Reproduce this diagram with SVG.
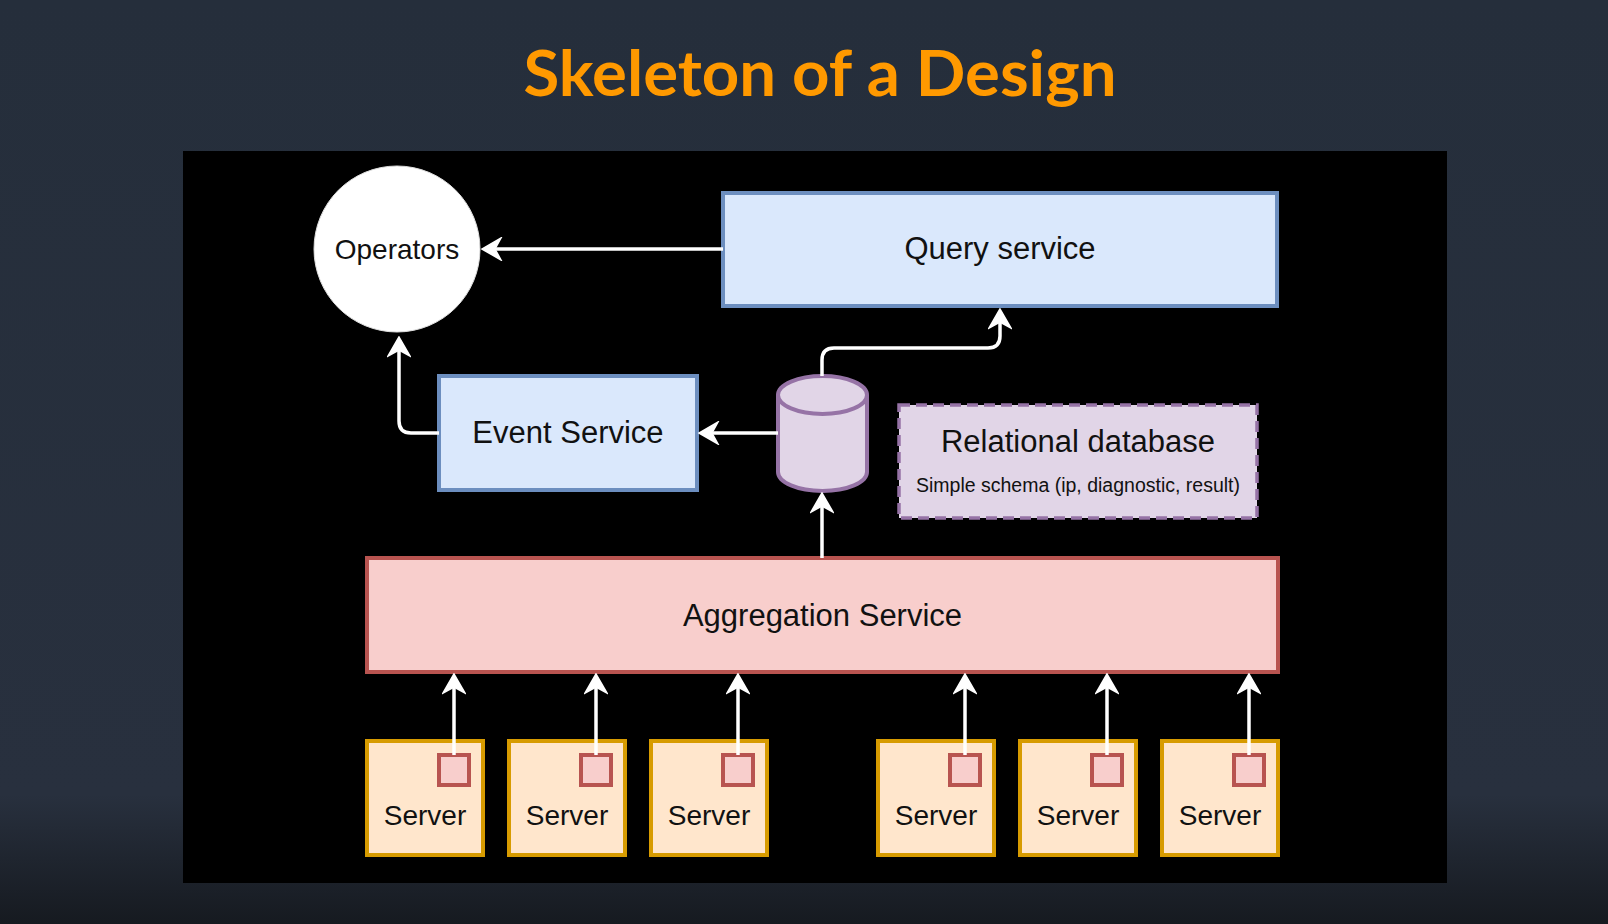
<svg xmlns="http://www.w3.org/2000/svg" width="1608" height="924" viewBox="0 0 1608 924">
  <defs>
    <linearGradient id="bg" x1="0" y1="0" x2="0" y2="1">
      <stop offset="0" stop-color="#252e3b"/>
      <stop offset="0.86" stop-color="#28303e"/>
      <stop offset="1" stop-color="#161a20"/>
    </linearGradient>
    <marker id="arr" viewBox="-26 -12 27 24" refX="-6" refY="0" markerWidth="27" markerHeight="24" markerUnits="userSpaceOnUse" orient="auto">
      <path d="M0,0 L-19,-11 L-13,0 L-19,11 Z" fill="#ffffff" stroke="#ffffff" stroke-width="1.5" stroke-linejoin="miter"/>
    </marker>
    <style>
      .blue { fill: #dae8fc; stroke: #6c8ebf; stroke-width: 4; }
      .red { fill: #f8cecc; stroke: #b85450; stroke-width: 4; }
      .srv { fill: #ffe6cc; stroke: #d79b00; stroke-width: 4; }
      .sq { fill: #f8cecc; stroke: #b85450; stroke-width: 4; }
      .purple { fill: #e1d5e7; stroke: #9673a6; stroke-width: 4; }
      .lbl { font-family: "Liberation Sans", Arial, Helvetica, sans-serif; fill: #111111; text-anchor: middle; }
      .big { font-size: 31px; }
      .mid { font-size: 28px; }
      .small { font-size: 19.5px; }
      .conn { fill: none; stroke: #ffffff; stroke-width: 3.5; marker-end: url(#arr); }
    </style>
  </defs>

  <rect x="0" y="0" width="1608" height="924" fill="url(#bg)"/>
  <text x="820" y="96" font-family="Lato, 'Open Sans', sans-serif" font-weight="700" font-size="64" fill="#ff9900" text-anchor="middle" textLength="593" lengthAdjust="spacingAndGlyphs">Skeleton of a Design</text>

  <rect id="panel" x="183" y="151" width="1264" height="732" fill="#000000"/>

  <g id="operators">
    <circle cx="397" cy="249" r="83" fill="#ffffff" stroke="#dddddd" stroke-width="1"/>
    <text class="lbl mid" x="397" y="259">Operators</text>
  </g>

  <g id="query-service">
    <rect class="blue" x="723" y="193" width="554" height="113"/>
    <text class="lbl big" x="1000" y="259">Query service</text>
  </g>

  <g id="event-service">
    <rect class="blue" x="439" y="376" width="258" height="114"/>
    <text class="lbl big" x="568" y="443">Event Service</text>
  </g>

  <g id="database">
    <path class="purple" d="M778,395 A44.5,19 0 0 1 867,395 L867,472 A44.5,19 0 0 1 778,472 Z"/>
    <path class="purple" fill="none" d="M778,395 A44.5,19 0 0 0 867,395"/>
  </g>

  <g id="relational-database">
    <rect x="899" y="405" width="358" height="113" fill="#e1d5e7" stroke="#9673a6" stroke-width="3.5" stroke-dasharray="11 6"/>
    <text class="lbl big" x="1078" y="452">Relational database</text>
    <text class="lbl small" x="1078" y="492">Simple schema (ip, diagnostic, result)</text>
  </g>

  <g id="aggregation-service">
    <rect class="red" x="367" y="558" width="911" height="114"/>
    <text class="lbl big" x="822.5" y="626">Aggregation Service</text>
  </g>

  <g id="server-1">
    <rect class="srv" x="367" y="741" width="116" height="114"/>
    <rect class="sq" x="439" y="755" width="30" height="30"/>
    <text class="lbl mid" x="425" y="825">Server</text>
  </g>
  <g id="server-2">
    <rect class="srv" x="509" y="741" width="116" height="114"/>
    <rect class="sq" x="581" y="755" width="30" height="30"/>
    <text class="lbl mid" x="567" y="825">Server</text>
  </g>
  <g id="server-3">
    <rect class="srv" x="651" y="741" width="116" height="114"/>
    <rect class="sq" x="723" y="755" width="30" height="30"/>
    <text class="lbl mid" x="709" y="825">Server</text>
  </g>
  <g id="server-4">
    <rect class="srv" x="878" y="741" width="116" height="114"/>
    <rect class="sq" x="950" y="755" width="30" height="30"/>
    <text class="lbl mid" x="936" y="825">Server</text>
  </g>
  <g id="server-5">
    <rect class="srv" x="1020" y="741" width="116" height="114"/>
    <rect class="sq" x="1092" y="755" width="30" height="30"/>
    <text class="lbl mid" x="1078" y="825">Server</text>
  </g>
  <g id="server-6">
    <rect class="srv" x="1162" y="741" width="116" height="114"/>
    <rect class="sq" x="1234" y="755" width="30" height="30"/>
    <text class="lbl mid" x="1220" y="825">Server</text>
  </g>

  <g id="connectors">
    <path class="conn" d="M723,249 L488,249"/>
    <path class="conn" d="M439,433 L411,433 Q399,433 399,421 L399,343"/>
    <path class="conn" d="M778,433 L705,433"/>
    <path class="conn" d="M822,376 L822,360 Q822,348 834,348 L988,348 Q1000,348 1000,336 L1000,315"/>
    <path class="conn" d="M822,558 L822,499"/>
    <path class="conn" d="M454,755 L454,680"/>
    <path class="conn" d="M596,755 L596,680"/>
    <path class="conn" d="M738,755 L738,680"/>
    <path class="conn" d="M965,755 L965,680"/>
    <path class="conn" d="M1107,755 L1107,680"/>
    <path class="conn" d="M1249,755 L1249,680"/>
  </g>
</svg>
